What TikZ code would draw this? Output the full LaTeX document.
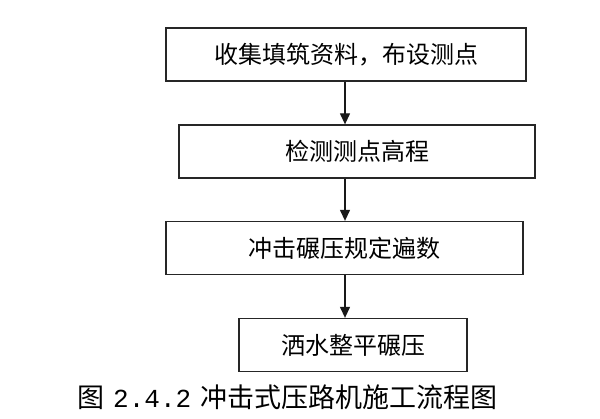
\documentclass[tikz,border=0pt]{standalone}
\usepackage{fontspec}
\newfontfamily\cjk{Noto Sans CJK SC}
\newfontfamily\capdigits{Liberation Mono}
\usetikzlibrary{arrows.meta}
\tikzset{
	stepbox/.style={draw=black!85,line width=1.3pt,minimum height=53pt,inner sep=0pt,
		font=\cjk\fontsize{24}{28}\selectfont},
	flow/.style={draw=black!90,line width=1.2pt,-{Triangle[length=11pt,width=10pt]}},
}

\begin{document}
\begin{tikzpicture}[x=1pt,y=-1pt]
					\useasboundingbox (0,0) rectangle (600,418);
					\coordinate (axis) at (345,0);
					\node[stepbox,minimum width=360pt] (collect) at (346,54.5) {收集填筑资料，布设测点};
					\node[stepbox,minimum width=356pt] (survey) at (357,151.5) {检测测点高程};
					\node[stepbox,minimum width=357pt] (impact) at (344.5,248) {冲击碾压规定遍数};
					\node[stepbox,minimum width=228pt] (water) at (353,345) {洒水整平碾压};
					\foreach \a/\b in {collect/survey,survey/impact,impact/water}
					\draw[flow] (\a.south -| axis) -- (\b.north -| axis);
					\node[anchor=west,inner sep=0pt,font=\cjk\fontsize{27}{32}\selectfont] (caption) at (77,397)
						{图\hspace{9pt}{\capdigits\fontsize{26}{32}\selectfont 2.4.2}\hspace{9pt}冲击式压路机施工流程图};
				\end{tikzpicture}
\end{document}
